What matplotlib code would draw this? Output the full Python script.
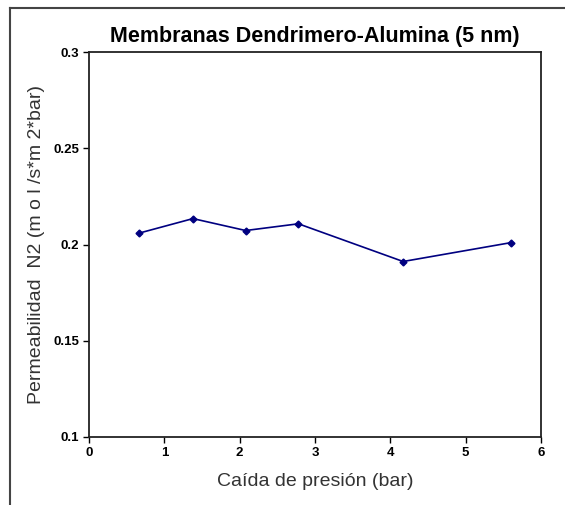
import matplotlib
matplotlib.use("Agg")
import matplotlib.pyplot as plt
from matplotlib.lines import Line2D

# caida de presion (bar) vs permeabilidad N2
presion = [0.67, 1.38, 2.08, 2.78, 4.17, 5.6]
permeab = [0.206, 0.2135, 0.2073, 0.2108, 0.1912, 0.201]

xticks = [0, 1, 2, 3, 4, 5, 6]
yticks = [0.1, 0.15, 0.2, 0.25, 0.3]
ytick_labels = ['0.1', '0.15', '0.2', '0.25', '0.3']

fig = plt.figure(figsize=(5.65, 5.05), dpi=100)
ax = fig.add_axes([0.1575, 0.1347, 0.8, 0.762])

ax.plot(presion, permeab, color='#000080', lw=1.2, marker='D', ms=3.5)

ax.set_xlim(0, 6)
ax.set_ylim(0.1, 0.3)
ax.set_xticks(xticks)
ax.set_yticks(yticks)
ax.set_yticklabels(ytick_labels)

for lab in ax.get_xticklabels() + ax.get_yticklabels():
    lab.set_fontfamily('Liberation Sans')
    lab.set_fontweight('bold')
    lab.set_fontsize(9.5)
ax.tick_params(direction='out', length=4, width=1, pad=3)

for s in ax.spines.values():
    s.set_linewidth(1.3)
    s.set_color('#222222')

ax.set_title('Membranas Dendrimero-Alumina (5 nm)', fontsize=15.5, fontweight='bold',
             family='Liberation Sans', pad=7)
ax.set_xlabel('Caída de presión (bar)', fontsize=14, family='Liberation Sans',
              color='#333333', labelpad=10)
ax.set_ylabel('Permeabilidad  N2 (m o l /s*m 2*bar)', fontsize=14,
              family='Liberation Sans', color='#333333', labelpad=6)

# outer frame
fig.add_artist(Line2D([10 / 565, 1], [1 - 8 / 505, 1 - 8 / 505], color='#444444', lw=1.5))
fig.add_artist(Line2D([10 / 565, 10 / 565], [0, 1 - 8 / 505], color='#444444', lw=1.5))

fig.savefig('out.png', dpi=100)
